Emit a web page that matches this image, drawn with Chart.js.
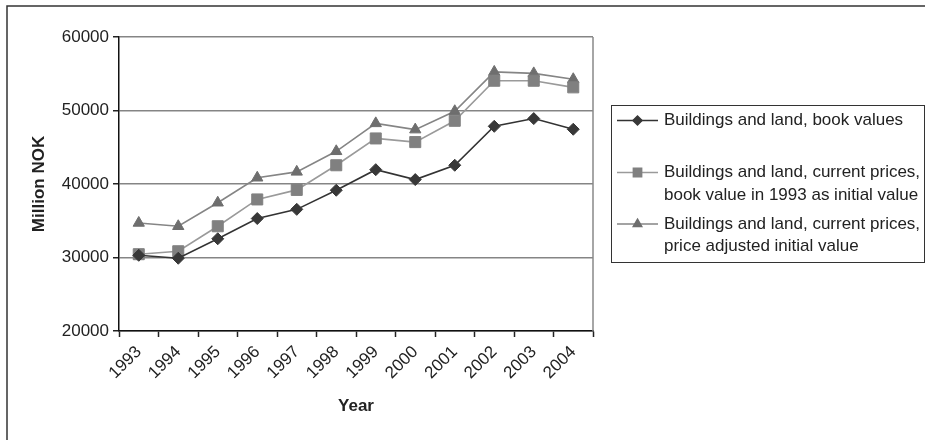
<!DOCTYPE html>
<html>
<head>
<meta charset="utf-8">
<script src="https://cdn.jsdelivr.net/npm/chart.js@4/dist/chart.umd.min.js"></script>
<style>
  html, body { margin: 0; padding: 0; background: #fff; }
  #wrap { width: 925px; height: 440px; }
</style>
</head>
<body>
<div id="wrap"><canvas id="grafica" width="925" height="440"></canvas></div>
<script>
// data
const years = ["1993","1994","1995","1996","1997","1998","1999","2000","2001","2002","2003","2004"];
const bookValues = [30300, 29900, 32550, 35300, 36550, 39150, 41950, 40600, 42550, 47850, 48900, 47450];
const currentBook1993 = [30450, 30850, 34250, 37900, 39200, 42550, 46200, 45700, 48600, 54050, 54050, 53150];
const currentPriceAdj = [34700, 34250, 37450, 40850, 41650, 44450, 48250, 47400, 49900, 55250, 55050, 54250];
const yTicks = [20000, 30000, 40000, 50000, 60000];

const labelBook = ["Buildings and land, book values"];
const labelCur1993 = ["Buildings and land, current prices,", "book value in 1993 as initial value"];
const labelCurAdj = ["Buildings and land, current prices,", "price adjusted initial value"];

const fuente = "'Liberation Sans', Arial, sans-serif";

// frame around the picture + right border of the plot
const marco = {
  id: "marco",
  afterDraw(chart) {
    const c = chart.ctx, a = chart.chartArea;
    c.save();
    c.strokeStyle = "#333";
    c.lineWidth = 1.5;
    c.beginPath();
    c.moveTo(7, 440);
    c.lineTo(7, 6);
    c.lineTo(925, 6);
    c.stroke();
    c.strokeStyle = "#888";
    c.beginPath();
    c.moveTo(a.right, a.top);
    c.lineTo(a.right, a.bottom);
    c.stroke();
    c.restore();
  }
};

// legend box drawn by hand (multi-line labels)
const leyenda = {
  id: "leyenda",
  afterDraw(chart) {
    const c = chart.ctx;
    const box = { x: 611, y: 105, w: 313, h: 157 };
    const rows = [[120.5], [172.5, 195], [224, 246]];
    c.save();
    c.strokeStyle = "#333";
    c.lineWidth = 1;
    c.strokeRect(box.x + 0.5, box.y + 0.5, box.w, box.h);
    c.font = "17px " + fuente;
    c.textBaseline = "middle";
    chart.data.datasets.forEach((ds, i) => {
      const y0 = rows[i][0];
      c.strokeStyle = ds.borderColor;
      c.lineWidth = 1.5;
      c.beginPath();
      c.moveTo(617, y0);
      c.lineTo(658, y0);
      c.stroke();
      c.fillStyle = ds.pointBackgroundColor;
      c.strokeStyle = ds.pointBorderColor;
      Chart.helpers.drawPoint(c, {
        pointStyle: ds.pointStyle,
        radius: ds.pointRadius * 0.75,
        borderWidth: 1,
        rotation: 0
      }, 637.5, y0);
      c.fillStyle = "#222";
      ds.label.forEach((t, j) => c.fillText(t, 664, rows[i][j]));
    });
    c.restore();
  }
};

new Chart(document.getElementById("grafica").getContext("2d"), {
  type: "line",
  data: {
    labels: years,
    datasets: [
      {
        label: labelBook,
        data: bookValues,
        borderColor: "#333",
        borderWidth: 1.6,
        pointStyle: "rectRot",
        pointRadius: 6,
        pointBackgroundColor: "#383838",
        pointBorderColor: "#383838",
        pointBorderWidth: 1,
        tension: 0
      },
      {
        label: labelCur1993,
        data: currentBook1993,
        borderColor: "#9a9a9a",
        borderWidth: 1.6,
        pointStyle: "rect",
        pointRadius: 7.8,
        pointBackgroundColor: "#808080",
        pointBorderColor: "#808080",
        pointBorderWidth: 1,
        tension: 0
      },
      {
        label: labelCurAdj,
        data: currentPriceAdj,
        borderColor: "#858585",
        borderWidth: 1.6,
        pointStyle: "triangle",
        pointRadius: 6.5,
        pointBackgroundColor: "#6e6e6e",
        pointBorderColor: "#6e6e6e",
        pointBorderWidth: 1,
        tension: 0
      }
    ]
  },
  options: {
    responsive: false,
    animation: false,
    layout: { padding: { left: 8, top: 37, right: 332, bottom: 0 } },
    plugins: {
      legend: { display: false },
      tooltip: { enabled: false }
    },
    scales: {
      x: {
        offset: true,
        afterFit(s) { s.height = 109; },
        grid: {
          offset: true,
          drawOnChartArea: false,
          drawTicks: true,
          tickLength: 6,
          tickColor: "#222",
          tickWidth: 1.5
        },
        border: { color: "#111", width: 1.5 },
        ticks: {
          minRotation: 45,
          maxRotation: 45,
          autoSkip: false,
          padding: 5,
          color: "#222",
          font: { family: fuente, size: 17 }
        },
        title: {
          display: true,
          text: "Year",
          color: "#222",
          padding: { top: 0, bottom: 23 },
          font: { family: fuente, size: 17, weight: "bold" }
        }
      },
      y: {
        min: yTicks[0],
        max: yTicks[yTicks.length - 1],
        afterFit(s) { s.width = 111; },
        afterBuildTicks(s) { s.ticks = yTicks.map(v => ({ value: v })); },
        grid: {
          color: "#858585",
          lineWidth: 1.5,
          tickLength: 6,
          tickColor: "#222",
          tickWidth: 1.5
        },
        border: { color: "#111", width: 1.5 },
        ticks: {
          padding: 4,
          color: "#222",
          font: { family: fuente, size: 17 },
          callback: v => String(v)
        },
        title: {
          display: true,
          text: "Million NOK",
          color: "#222",
          padding: { top: 21, bottom: 0 },
          font: { family: fuente, size: 17, weight: "bold" }
        }
      }
    }
  },
  plugins: [marco, leyenda]
});
</script>
</body>
</html>
